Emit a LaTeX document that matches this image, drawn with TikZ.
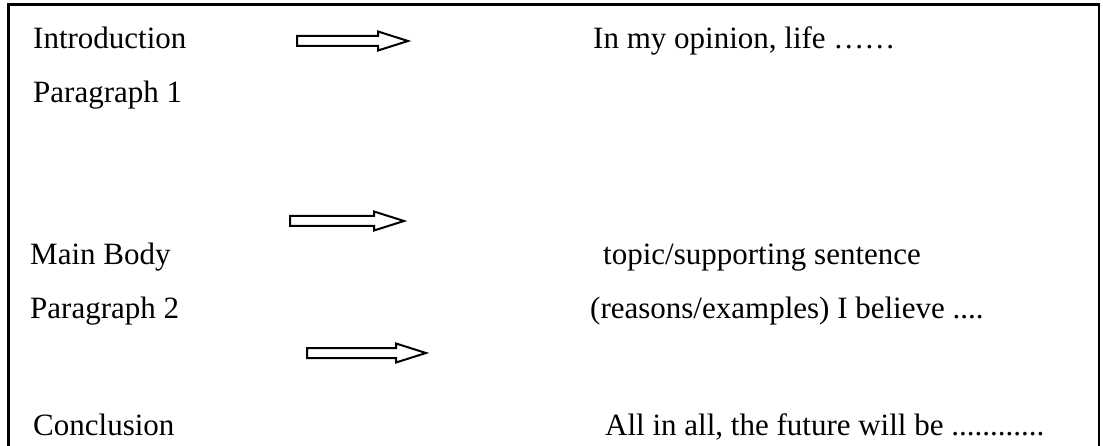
\documentclass[tikz,border=0pt]{standalone}
\usepackage{fontspec}
\setmainfont{Liberation Serif}

\begin{document}
\begin{tikzpicture}[x=1pt,y=-1pt,
    every node/.style={inner sep=0pt,anchor=base west,font=\fontsize{31}{36}\selectfont},
    blockarrow/.style={draw=black,line width=2pt,fill=white,line join=miter}]
  \useasboundingbox (0,0) rectangle (1103,446);

  % frame, open at the bottom
  \draw[line width=2.5pt] (8.5,446) -- (8.5,4.5) -- (1099,4.5) -- (1099,446);

  % left column
  \node (intro)    at (33,49)  {Introduction};
  \node (para1)    at (33,103) {Paragraph 1};
  \node (mainbody) at (30,265) {Main Body};
  \node (para2)    at (30,319) {Paragraph 2};
  \node (concl)    at (33,435) {Conclusion};

  % right column
  \node (opinion) at (593,49)  {In my opinion, life ……};
  \node (topic)   at (603,265) {topic/supporting sentence};
  \node (reasons) at (590,319) {(reasons/examples) I believe ....};
  \node (future)  at (605,435) {All in all, the future will be ............};

  % block arrows
  \foreach \xa/\xb/\yc in {297/408/41, 290/404/221, 307/426/353}
    \draw[blockarrow] (\xa,\yc-5) -- (\xb-30,\yc-5) -- (\xb-30,\yc-9.5) -- (\xb,\yc)
      -- (\xb-30,\yc+9.5) -- (\xb-30,\yc+5) -- (\xa,\yc+5) -- cycle;
\end{tikzpicture}
\end{document}
